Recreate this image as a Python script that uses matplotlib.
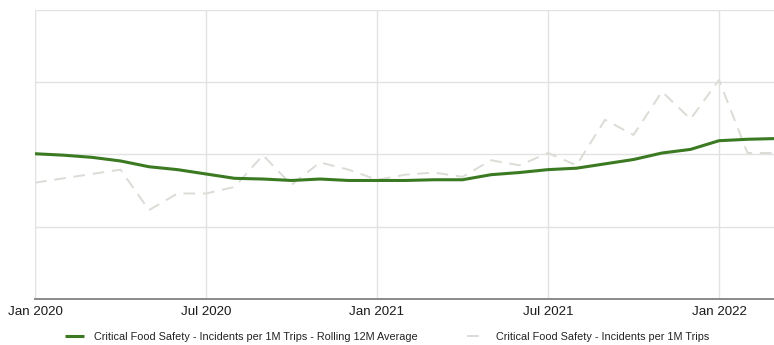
import numpy as np
import matplotlib.pyplot as plt

plt.rcParams['font.family'] = ['Liberation Sans', 'DejaVu Sans']

# monthly values, Jan 2020 .. Mar 2022
months = np.arange(27)
rolling_avg = [2.01, 1.99, 1.96, 1.91, 1.83, 1.79, 1.73, 1.67, 1.66, 1.64, 1.66, 1.64,
               1.64, 1.64, 1.65, 1.65, 1.72, 1.75, 1.79, 1.81, 1.87, 1.93, 2.02, 2.07,
               2.19, 2.21, 2.22]
monthly = [1.61, 1.67, 1.73, 1.79, 1.23, 1.46, 1.46, 1.55, 1.99, 1.58, 1.89, 1.79,
           1.65, 1.72, 1.75, 1.69, 1.92, 1.85, 2.02, 1.85, 2.48, 2.27, 2.87, 2.49,
           3.03, 2.02, 2.02]
tick_pos = [0, 6, 12, 18, 24]
tick_labels = ['Jan 2020', 'Jul 2020', 'Jan 2021', 'Jul 2021', 'Jan 2022']

fig = plt.figure(figsize=(7.74, 3.45), dpi=100)
ax = fig.add_axes([0.0452, 0.1333, 0.9548, 0.838])

ax.plot(months, rolling_avg, '-', color='#3b7a22', lw=2.2, solid_capstyle='butt',
        label='Critical Food Safety - Incidents per 1M Trips - Rolling 12M Average', zorder=3)
ax.plot(months, monthly, '--', color='#d9ddd5', lw=1.4, dashes=(6, 4),
        label='Critical Food Safety - Incidents per 1M Trips', zorder=2)

ax.set_xlim(0, 25.93)
ax.set_ylim(0, 4)
ax.set_yticks([0, 1, 2, 3, 4])
ax.set_yticklabels([])
ax.set_xticks(tick_pos)
ax.set_xticklabels(tick_labels, fontsize=9.6, color='#1a1a1a')
ax.tick_params(axis='both', length=0, pad=5)
ax.grid(True, color='#e2e2e2', lw=1)
ax.set_axisbelow(True)

for s in ['top', 'right']:
    ax.spines[s].set_visible(False)
ax.spines['left'].set_color('#e2e2e2')
ax.spines['bottom'].set_color('#8a8a8a')
ax.spines['bottom'].set_linewidth(1.4)

fig.legend(loc='lower center', bbox_to_anchor=(0.5, -0.02), ncol=2, frameon=False,
           fontsize=7.8, handlelength=1.8, handletextpad=0.9, columnspacing=4.5,
           labelcolor='#222222')

fig.savefig('out.png', dpi=100)
